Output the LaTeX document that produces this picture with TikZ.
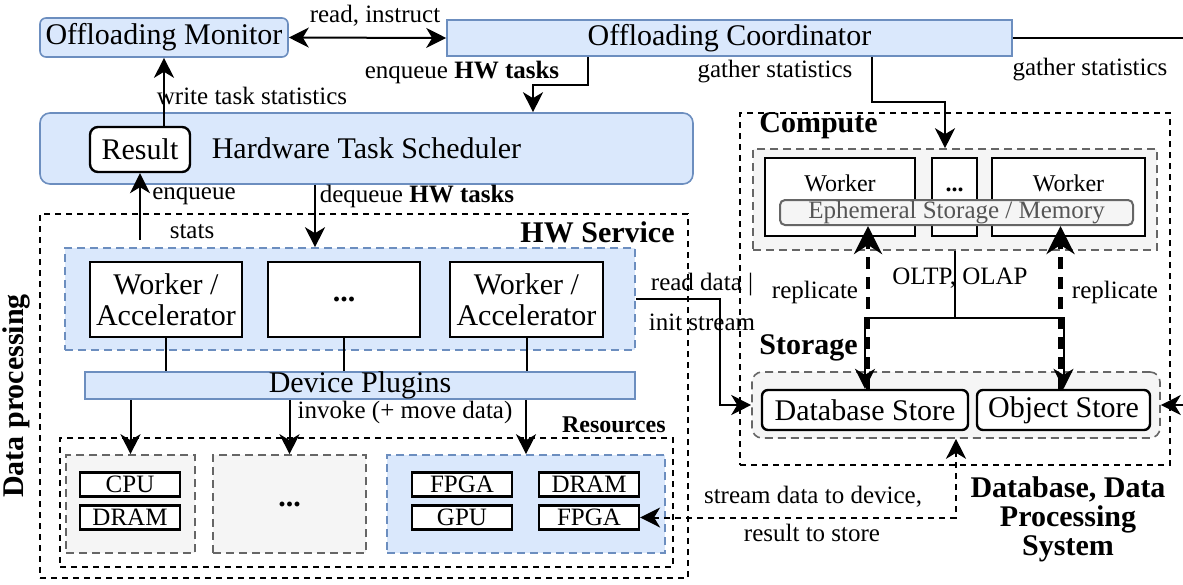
\documentclass[tikz,border=0pt]{standalone}
\usepackage{fontspec}
\setmainfont{Liberation Serif}
\usetikzlibrary{arrows.meta,calc}

\definecolor{bluefill}{HTML}{DAE8FC}
\definecolor{blueline}{HTML}{6C8EBF}
\definecolor{grayfill}{HTML}{F5F5F5}
\definecolor{grayline}{HTML}{666666}
\definecolor{graytext}{HTML}{555555}

\tikzset{
	txt/.style={font=\fontsize{15}{15.5}\selectfont, inner sep=0pt, align=center},
	bluebox/.style={txt, draw=blueline, fill=bluefill, line width=0.8pt},
	blackbox/.style={txt, draw=black, fill=white, line width=1.2pt},
	dashbox/.style={draw=black, line width=1pt, dash pattern=on 3pt off 2.5pt},
	bluegrp/.style={txt, draw=blueline, fill=bluefill, line width=0.8pt, dash pattern=on 4pt off 2.5pt},
	graygrp/.style={txt, draw=grayline, fill=grayfill, line width=0.8pt, dash pattern=on 4pt off 2.5pt},
	resbox/.style={blackbox, font=\fontsize{12.5}{13}\selectfont, minimum width=50pt, minimum height=12pt, line width=1.1pt},
	wbox/.style={blackbox, font=\fontsize{12}{13}\selectfont, minimum height=39pt, text height=8pt, text depth=14pt},
	ephbox/.style={txt, font=\fontsize{12.5}{13}\selectfont, draw=grayline, fill=grayfill, text=graytext, rounded corners=2.5pt, line width=1pt},
	title/.style={font=\bfseries\fontsize{15}{14.5}\selectfont, inner sep=2pt, align=center},
	lbl/.style={font=\fontsize{12.5}{13}\selectfont, inner sep=0pt},
	conn/.style={line width=1pt},
	arr/.style={conn, -{Stealth[length=10pt,width=10pt,inset=3pt]}},
	dblarr/.style={conn, {Stealth[length=10pt,width=10pt,inset=3pt]}-{Stealth[length=10pt,width=10pt,inset=3pt]}},
	strmarr/.style={dblarr, dash pattern=on 3pt off 2.5pt},
	reparr/.style={line width=2.2pt, dash pattern=on 6pt off 4pt, -{Stealth[length=14pt,width=14pt,inset=4.5pt]}}
}

\begin{document}
\begin{tikzpicture}[x=0.5pt, y=-0.5pt]
			%%%%% START %%%%%
			\useasboundingbox (0,0) rectangle (1183,584);
			
			% top row
			\node[bluebox, rounded corners=3pt, minimum width=124pt, minimum height=19.5pt] (mon) at (164,37.5) {Offloading Monitor};
			\node[bluebox, minimum width=282.5pt, minimum height=18pt] (coord) at (729.5,38) {Offloading Coordinator};
			\node[bluebox, rounded corners=5pt, minimum width=326.5pt, minimum height=35.5pt] (sched) at (366.5,148.5) {Hardware Task Scheduler};
			\node[blackbox, rounded corners=4pt, minimum width=50pt, minimum height=22.5pt] (result) at (140,149.5) {Result};
			
			% HW service
			\node[dashbox, minimum width=324pt, minimum height=182pt] (svc) at (364,396) {};
			\node[title, anchor=north east] (svctitle) at ([xshift=-5pt,yshift=-2pt]svc.north east) {HW Service};
			\node[title, rotate=90, anchor=south] (dptitle) at ([xshift=-2pt]svc.west) {Data processing};
			
			\node[bluegrp, minimum width=285pt, minimum height=51pt] (wgroup) at (350,299) {};
			\node[blackbox, minimum width=76pt, minimum height=37.5pt] (wa1) at (166,299.5) {Worker /\\Accelerator};
			\node[blackbox, minimum width=76pt, minimum height=37.5pt] (wdots) at (344,299.5) {\textbf{...}};
			\node[blackbox, minimum width=76.5pt, minimum height=37.5pt] (wa2) at (526.5,299.5) {Worker /\\Accelerator};
			
			\node[bluebox, minimum width=275pt, minimum height=12.5pt] (plug) at (360,385.5) {Device Plugins};
			
			% resources
			\node[dashbox, minimum width=306.5pt, minimum height=64.5pt] (res) at (366.5,502.5) {};
			\node[title, font=\bfseries\fontsize{12}{13}\selectfont, anchor=south east] (restitle) at ([xshift=-2pt]res.north east) {Resources};
			\node[graygrp, minimum width=64.5pt, minimum height=49pt] (cpugrp) at (130.5,504) {};
			\node[graygrp, minimum width=76.5pt, minimum height=49pt] (midgrp) at (289.5,504) {\textbf{...}};
			\node[bluegrp, minimum width=139pt, minimum height=49pt] (devgrp) at (526,504) {};
			\node[resbox] (cpu) at (130,484.5) {CPU};
			\node[resbox] (dram) at (130,517.5) {DRAM};
			\node[resbox] (fpga) at (462,484.5) {FPGA};
			\node[resbox] (dramb) at (589,484.5) {DRAM};
			\node[resbox] (gpu) at (462,517.5) {GPU};
			\node[resbox] (fpgab) at (589,517.5) {FPGA};
			
			% compute
			\node[dashbox, minimum width=215pt, minimum height=176pt] (comp) at (955,289) {};
			\node[title, anchor=west] (comptitle) at (755,126) {Compute};
			\node[graygrp, minimum width=202pt, minimum height=50.5pt] (cgroup) at (955,199.5) {};
			\node[wbox, minimum width=75pt] (wk1) at (840,197) {Worker};
			\node[wbox, minimum width=22.5pt] (cdots) at (954.5,197) {\textbf{...}};
			\node[wbox, minimum width=76.5pt] (wk2) at (1068.5,197) {Worker};
			\node[ephbox, minimum width=176.5pt, minimum height=12.5pt] (eph) at (956.5,212.5) {Ephemeral Storage / Memory};
			
			% storage
			\node[title, anchor=west] (stortitle) at (755,348) {Storage};
			\node[graygrp, rounded corners=5pt, minimum width=204pt, minimum height=33pt] (sgroup) at (956,405) {};
			\node[blackbox, rounded corners=3pt, minimum width=103pt, minimum height=20pt] (db) at (865,410) {Database Store};
			\node[blackbox, rounded corners=3pt, minimum width=86.5pt, minimum height=20pt] (obj) at (1063.5,410) {Object Store};
			
			\node[title] (dbtitle) at (1068,519) {Database, Data\\Processing\\System};
			
			% bend points
			\coordinate (enqa) at (588,85);
			\coordinate (enqb) at (533,85);
			\coordinate (gata) at (872,102);
			\coordinate (gatb) at (945,102);
			\coordinate (wts) at (164,0);
			\coordinate (enqst) at (140,240);
			\coordinate (deq) at (315,0);
			\coordinate (rdx) at (720,0);
			\coordinate (oltp) at (955,318);
			\coordinate (redge) at (1183,405);
			\coordinate (tedge) at (1183,37);
			
			% connectors
			\draw[dblarr] (mon.east) -- (coord.west);
			\draw[arr] (coord.south -| enqa) -- (enqa) -- (enqb) -- (sched.north -| enqb);
			\draw[arr] (coord.south -| gata) -- (gata) -- (gatb) -- (cgroup.north -| gatb);
			\draw[conn] (coord.east) -- (coord.east -| tedge);
			\draw[arr] (result.north -| wts) -- (mon.south -| wts);
			\draw[arr] (enqst) -- (result.south);
			\draw[arr] (sched.south -| deq) -- (wgroup.north -| deq);
			
			\draw[conn] (wa1.south) -- (wa1.south |- plug.north);
			\draw[conn] (wdots.south) -- (wdots.south |- plug.north);
			\draw[conn] (wa2.south) -- (wa2.south |- plug.north);
			\draw[arr] (plug.south -| cpugrp.north) -- (cpugrp.north);
			\draw[arr] (plug.south -| midgrp.north) -- (midgrp.north);
			\draw[arr] (plug.south -| devgrp.north) -- (devgrp.north);
			
			\draw[arr] (wgroup.east) -- (wgroup.east -| rdx) -- (rdx |- sgroup.west) -- (sgroup.west);
			\draw[arr] (redge) -- (sgroup.east);
			
			\draw[conn] (cgroup.south) -- (oltp);
			\draw[arr] (oltp) -| (db.north);
			\draw[arr] (oltp) -| (obj.north);
			\draw[reparr] ([xshift=1.5pt]db.north) -- ([xshift=1.5pt]db.north |- eph.south);
			\draw[reparr] ([xshift=-1.5pt]obj.north) -- ([xshift=-1.5pt]obj.north |- eph.south);
			
			\draw[strmarr] (fpgab.east) -- (fpgab.east -| sgroup.south) -- (sgroup.south);
			
			% labels
			\node[lbl] (l1) at (375,16) {read, instruct};
			\node[lbl] (l2) at (462,72) {enqueue \textbf{HW tasks}};
			\node[lbl] (l3) at (775,72) {gather statistics};
			\node[lbl] (l4) at (1090,70) {gather statistics};
			\node[lbl] (l5) at (252,96) {write task statistics};
			\node[lbl] (l6) at (194,196) {enqueue};
			\node[lbl] (l7) at (192,232) {stats};
			\node[lbl] (l8) at (417,196) {dequeue \textbf{HW tasks}};
			\node[lbl] (l9) at (405,412) {invoke (+ move data)};
			\node[lbl] (l10) at (702,285) {read data |};
			\node[lbl] (l11) at (702,322) {init stream};
			\node[lbl] (l12) at (960,278) {OLTP, OLAP};
			\node[lbl] (l13) at (815,292) {replicate};
			\node[lbl] (l14) at (1115,292) {replicate};
			\node[lbl] (l15) at (813,497) {stream data to device,};
			\node[lbl] (l16) at (812,533) {result to store};
			
			%%%%% END %%%%%
\end{tikzpicture}
\end{document}
